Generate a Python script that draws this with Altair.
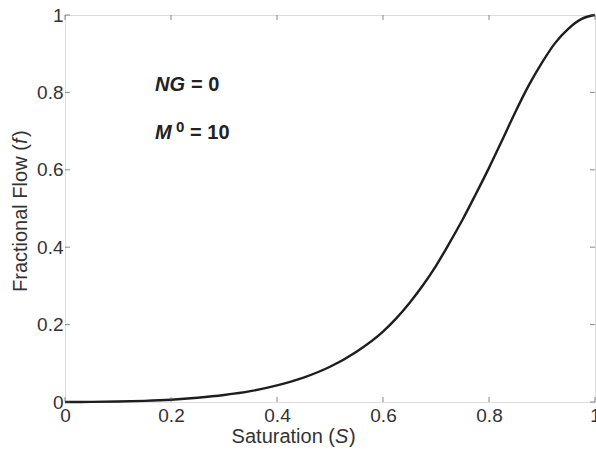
import altair as alt
import pandas as pd

# Data
saturation = [0.0, 0.05, 0.1, 0.15, 0.2, 0.25, 0.3, 0.35, 0.4, 0.45, 0.5, 0.55,
              0.6, 0.625, 0.65, 0.675, 0.7, 0.725, 0.75, 0.775, 0.8, 0.825, 0.85,
              0.875, 0.9, 0.925, 0.95, 0.975, 1.0]
frac_flow = [0.0, 0.0003, 0.0012, 0.003, 0.006, 0.011, 0.018, 0.028, 0.043, 0.063,
             0.091, 0.13, 0.182, 0.216, 0.256, 0.301, 0.352, 0.41, 0.471, 0.537, 0.605,
             0.677, 0.75, 0.818, 0.877, 0.928, 0.965, 0.99, 1.0]
tick_values = [0, 0.2, 0.4, 0.6, 0.8, 1]
annot_ng = "= 0"
annot_m = "= 10"

W, H = 530, 387
FONT = "Liberation Sans"
TXT = "#333333"
FRAME = "#5a5a5a"
TICK_FS = 19
TITLE_FS = 20

df = pd.DataFrame({"S": saturation, "f": frac_flow})
ticks = pd.DataFrame({"v": tick_values})

xs = alt.Scale(domain=[0, 1], nice=False, zero=False)
ys = alt.Scale(domain=[0, 1], nice=False, zero=False)

label_expr = "datum.value == 0 ? '0' : datum.value == 1 ? '1' : format(datum.value, '.1f')"

line = alt.Chart(df).mark_line(color="#1e1e1e", strokeWidth=2.4, interpolate="monotone").encode(
    x=alt.X("S:Q", scale=xs, axis=alt.Axis(values=tick_values, labelExpr=label_expr, ticks=False,
                                          domain=False, grid=False, labelFontSize=TICK_FS, labelFont=FONT,
                                          labelColor=TXT, labelPadding=4, title=None, labelFlush=False)),
    y=alt.Y("f:Q", scale=ys, axis=alt.Axis(values=tick_values, labelExpr=label_expr, ticks=False,
                                          domain=False, grid=False, labelFontSize=TICK_FS, labelFont=FONT,
                                          labelColor=TXT, labelPadding=2, title=None, labelFlush=False)),
)

tick_len = 5
def tk(orient, **pos):
    return alt.Chart(ticks).mark_tick(color=FRAME, thickness=1, size=tick_len, orient=orient).encode(**pos)

xt_bottom = tk("vertical", x=alt.X("v:Q", scale=xs), y=alt.value(H - tick_len / 2))
xt_top = tk("vertical", x=alt.X("v:Q", scale=xs), y=alt.value(tick_len / 2))
yt_left = tk("horizontal", y=alt.Y("v:Q", scale=ys), x=alt.value(tick_len / 2))
yt_right = tk("horizontal", y=alt.Y("v:Q", scale=ys), x=alt.value(W - tick_len / 2))

# Axis titles with italic variable symbols
one = pd.DataFrame({"k": [0]})
def title_part(text, x, y, style="normal", align="left", angle=0):
    return alt.Chart(one).mark_text(text=text, align=align, baseline="middle", angle=angle,
                                    font=FONT, fontSize=TITLE_FS, fontStyle=style,
                                    color=TXT).encode(x=alt.value(x), y=alt.value(y))

xt1 = title_part("Saturation (", 270, 422, align="right")
xt2 = title_part("S", 270, 422, style="italic")
xt3 = title_part(")", 284, 422)
yt1 = title_part("Fractional Flow (", -44, 277, angle=270)
yt2 = title_part("f", -44, 277 - 148, style="italic", angle=270)
yt3 = title_part(")", -44, 277 - 148 - 7, angle=270)

ann = pd.DataFrame({"S": [0.170], "f": [0.819]})
ann2 = pd.DataFrame({"S": [0.170], "f": [0.695]})

def txt(d, text, dx=0, dy=0, style="normal", size=20):
    return alt.Chart(d).mark_text(text=text, align="left", baseline="middle", dx=dx, dy=dy,
                                  font=FONT, fontSize=size, fontWeight="bold", fontStyle=style,
                                  color="#222222").encode(x=alt.X("S:Q", scale=xs), y=alt.Y("f:Q", scale=ys))

ng1 = txt(ann, "NG", style="italic")
ng2 = txt(ann, annot_ng, dx=36)
m1 = txt(ann2, "M", style="italic")
m2 = txt(ann2, "0", dx=21, dy=-6, size=15)
m3 = txt(ann2, annot_m, dx=35)

chart = alt.layer(line, xt_bottom, xt_top, yt_left, yt_right, xt1, xt2, xt3, yt1, yt2, yt3,
                  ng1, ng2, m1, m2, m3).properties(
    width=W, height=H,
    autosize=alt.AutoSizeParams(type="none"),
    padding={"left": 65, "top": 15, "right": 1, "bottom": 50},
).configure_view(stroke=FRAME, strokeWidth=2).configure(background="white")

chart.save("out.html", embed_options={"renderer": "svg", "actions": False})
